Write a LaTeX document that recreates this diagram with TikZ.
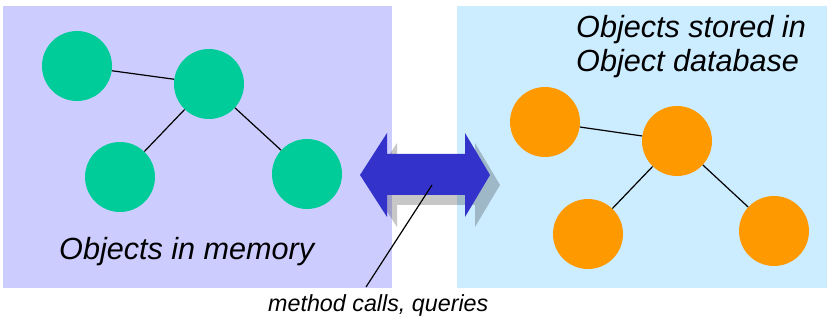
\documentclass[tikz,border=0pt]{standalone}
\usepackage{fontspec}
\setmainfont{Liberation Sans}
\definecolor{memBg}{HTML}{CCCCFF}
\definecolor{dbBg}{HTML}{CCECFF}
\definecolor{objGreen}{HTML}{00CC99}
\definecolor{objOrange}{HTML}{FF9900}
\definecolor{arrBlue}{HTML}{3333CC}
\begin{document}
\begin{tikzpicture}[x=1pt,y=-1pt,
  obj/.style={circle,inner sep=0pt,minimum size=70pt},
  memobj/.style={obj,fill=objGreen},
  dbobj/.style={obj,fill=objOrange},
  link/.style={draw=black,line width=1.2pt},
  bigtext/.style={font=\itshape\fontsize{30.6}{34}\selectfont,inner sep=0pt,anchor=base west},
  smalltext/.style={font=\itshape\fontsize{23.3}{26}\selectfont,inner sep=0pt,anchor=base west}]
\useasboundingbox (0,0) rectangle (827,320);
\fill[white] (0,0) rectangle (827,320);
% panels
\fill[memBg] (3,6) rectangle (392,288);
\fill[dbBg] (457,6) rectangle (827,288);
% memory objects
\node[memobj] (m1) at (77,66) {};
\node[memobj] (m2) at (209,84) {};
\node[memobj] (m3) at (120,177) {};
\node[memobj] (m4) at (307,174) {};
\draw[link] (m1) -- (m2);
\draw[link] (m2) -- (m3);
\draw[link] (m2) -- (m4);
% database objects
\node[dbobj] (d1) at (545,122) {};
\node[dbobj] (d2) at (677,141) {};
\node[dbobj] (d3) at (588,234) {};
\node[dbobj] (d4) at (774,231) {};
\draw[link] (d1) -- (d2);
\draw[link] (d2) -- (d3);
\draw[link] (d2) -- (d4);
% texts
\node[bigtext] (memlbl) at (59,260) {Objects in memory};
\node[bigtext] (dblbl1) at (576,38) {Objects stored in};
\node[bigtext] (dblbl2) at (576,72) {Object database};
% double arrow with shadow
\fill[black,opacity=0.22,shift={(10,10)}] (360,175) -- (387,133) -- (387,154) -- (465,154) -- (465,133) -- (490,175) -- (465,217) -- (465,195) -- (387,195) -- (387,217) -- cycle;
\fill[arrBlue] (360,175) -- (387,133) -- (387,154) -- (465,154) -- (465,133) -- (490,175) -- (465,217) -- (465,195) -- (387,195) -- (387,217) -- cycle;
\coordinate (ptrA) at (432,185);
\coordinate (ptrB) at (366,287);
\draw[black,line width=1.2pt] (ptrA) -- (ptrB);
\node[smalltext] (calls) at (268,312) {method calls, queries};
\end{tikzpicture}
\end{document}
